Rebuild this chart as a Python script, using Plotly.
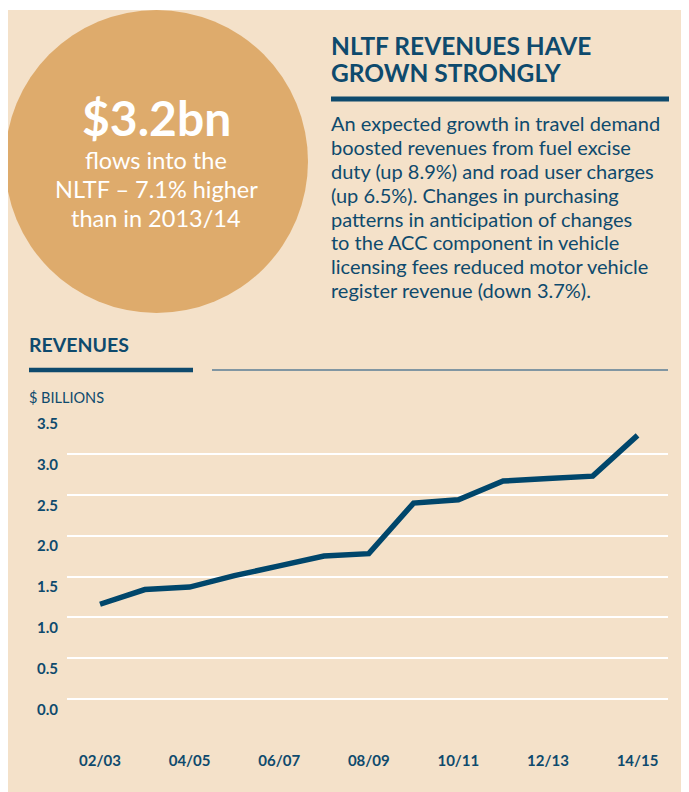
import plotly.graph_objects as go

# ---- data ----
years = ["02/03", "03/04", "04/05", "05/06", "06/07", "07/08", "08/09",
         "09/10", "10/11", "11/12", "12/13", "13/14", "14/15"]
revenues = [1.16, 1.34, 1.37, 1.51, 1.63, 1.75, 1.78,
            2.40, 2.44, 2.67, 2.70, 2.73, 3.23]
shown_ticks = years[::2]
y_ticks = [-0.5, 0.0, 0.5, 1.0, 1.5, 2.0, 2.5, 3.0, 3.5]
y_tick_text = ["", "0.0", "0.5", "1.0", "1.5", "2.0", "2.5", "3.0", "3.5"]

title_lines = ["NLTF REVENUES HAVE", "GROWN STRONGLY"]
body_lines = [
    "An expected growth in travel demand",
    "boosted revenues from fuel excise",
    "duty (up 8.9%) and road user charges",
    "(up 6.5%). Changes in purchasing",
    "patterns in anticipation of changes",
    "to the ACC component in vehicle",
    "licensing fees reduced motor vehicle",
    "register revenue (down 3.7%).",
]
circle_big = "$3.2bn"
circle_lines = ["flows into the", "NLTF – 7.1% higher", "than in 2013/14"]

# ---- style ----
OFF = 8  # page body margin
W, H = 689 - OFF, 792 - OFF
PANEL = "#f4e1c9"
CIRCLE = "#deab6c"
BLUE = "#0e4a6d"
LINE = "#00466b"
FONT = "Lato, 'Open Sans', sans-serif"


def px(x):
    return (x - OFF) / W


def py(y):
    return 1 - (y - OFF) / H


fig = go.Figure()
fig.add_trace(go.Scatter(
    x=years, y=revenues, mode="lines",
    line=dict(color=LINE, width=5.5),
    hoverinfo="skip", showlegend=False,
))

shapes = [
    # cream panel
    dict(type="rect", xref="paper", yref="paper", x0=px(6), x1=px(700),
         y0=py(800), y1=py(10), fillcolor=PANEL, line=dict(width=0), layer="below"),
    # circle
    dict(type="circle", xref="paper", yref="paper", x0=px(5), x1=px(308),
         y0=py(313), y1=py(10), fillcolor=CIRCLE, line=dict(width=0), layer="below"),
    # title rule
    dict(type="rect", xref="paper", yref="paper", x0=px(331), x1=px(669),
         y0=py(101.5), y1=py(96.5), fillcolor=BLUE, line=dict(width=0), layer="below"),
    # revenues thick bar
    dict(type="rect", xref="paper", yref="paper", x0=px(29), x1=px(193),
         y0=py(372.3), y1=py(367.7), fillcolor=BLUE, line=dict(width=0), layer="below"),
    # thin line
    dict(type="line", xref="paper", yref="paper", x0=px(212), x1=px(668),
         y0=py(370), y1=py(370), line=dict(color="#5b7d95", width=1.6), layer="below"),
]

annotations = []
# circle text
annotations.append(dict(text=f"<b>{circle_big}</b>", x=px(156), y=py(118),
                        xref="paper", yref="paper", showarrow=False,
                        xanchor="center", yanchor="middle",
                        font=dict(family=FONT, size=48, color="white")))
for i, t in enumerate(circle_lines):
    annotations.append(dict(text=t, x=px(156), y=py(160 + 29 * i),
                            xref="paper", yref="paper", showarrow=False,
                            xanchor="center", yanchor="middle",
                            font=dict(family=FONT, size=23.5, color="white")))
# title
for i, t in enumerate(title_lines):
    annotations.append(dict(text=f"<b>{t}</b>", x=px(329), y=py(45 + 27.4 * i),
                            xref="paper", yref="paper", showarrow=False,
                            xanchor="left", yanchor="middle",
                            font=dict(family=FONT, size=24.5, color=BLUE)))
# body
for i, t in enumerate(body_lines):
    annotations.append(dict(text=t, x=px(329), y=py(123 + 23.9 * i),
                            xref="paper", yref="paper", showarrow=False,
                            xanchor="left", yanchor="middle",
                            font=dict(family=FONT, size=20, color=BLUE)))
# chart headers
annotations.append(dict(text="<b>REVENUES</b>", x=px(27), y=py(344),
                        xref="paper", yref="paper", showarrow=False,
                        xanchor="left", yanchor="middle",
                        font=dict(family=FONT, size=19.5, color=BLUE)))
annotations.append(dict(text="$ BILLIONS", x=px(27), y=py(397),
                        xref="paper", yref="paper", showarrow=False,
                        xanchor="left", yanchor="middle",
                        font=dict(family=FONT, size=14.5, color=BLUE)))

fig.update_layout(
    width=W, height=H,
    margin=dict(l=0, r=0, t=0, b=0),
    paper_bgcolor="white",
    plot_bgcolor="rgba(0,0,0,0)",
    shapes=shapes,
    annotations=annotations,
    showlegend=False,
    xaxis=dict(
        type="category",
        domain=[px(67), px(668)],
        range=[-0.737, 12.68],
        tickmode="array", tickvals=shown_ticks, ticktext=shown_ticks,
        showgrid=False, zeroline=False, showline=False,
        ticks="", ticklabelstandoff=9,
        tickfont=dict(family=FONT, size=15, color=BLUE, weight="bold"),
    ),
    yaxis=dict(
        domain=[py(740.5), py(412.5)],
        range=[-0.51, 3.51],
        tickmode="array", tickvals=y_ticks, ticktext=y_tick_text,
        showgrid=True, gridcolor="white", gridwidth=1.6,
        zeroline=False, showline=False,
        ticks="", ticklabelposition="outside bottom", ticklabelstandoff=8,
        tickfont=dict(family=FONT, size=15, color=BLUE, weight="bold"),
    ),
)

fig.write_html("out.html")
